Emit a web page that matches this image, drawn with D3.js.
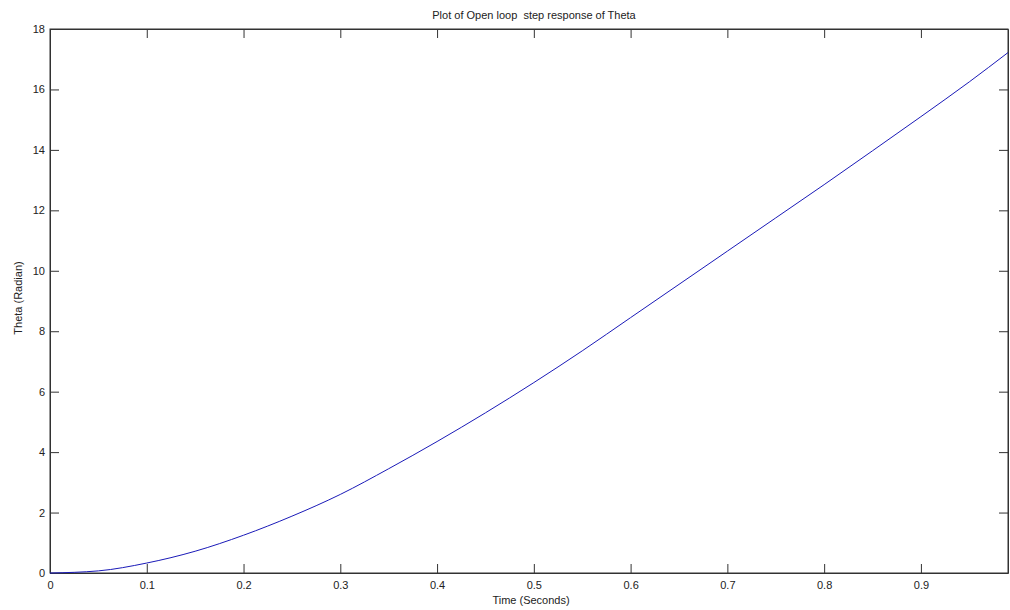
<!DOCTYPE html>
<html>
<head>
    <meta charset="utf-8">
    <script src="https://d3js.org/d3.v7.min.js"></script>
    <style>
        body { margin: 0; background: #fff; }
        text { font-family: "Liberation Sans", Arial, sans-serif; fill: #222; }
    </style>
</head>
<body>
    <svg id="chart" width="1010" height="610"></svg>

    <script>
        // Data
        const timeValues = [0, 0.05, 0.1, 0.15, 0.2, 0.25, 0.3, 0.35, 0.4, 0.45, 0.5,
            0.55, 0.6, 0.65, 0.7, 0.75, 0.8, 0.85, 0.9, 0.95, 0.99];
        const thetaValues = [0, 0.07, 0.33, 0.72, 1.25, 1.88, 2.6, 3.45, 4.35, 5.3, 6.3,
            7.35, 8.45, 9.55, 10.65, 11.75, 12.85, 13.97, 15.1, 16.25, 17.22];
        const xTicks = [0, 0.1, 0.2, 0.3, 0.4, 0.5, 0.6, 0.7, 0.8, 0.9];
        const yTicks = [0, 2, 4, 6, 8, 10, 12, 14, 16, 18];

        const svg = d3.select("#chart");
        const plotLeft = 50, plotRight = 1008, plotTop = 29, plotBottom = 573;
        const tickLen = 9;

        const x = d3.scaleLinear().domain([0, 0.99]).range([plotLeft, plotRight]);
        const y = d3.scaleLinear().domain([0, 18]).range([plotBottom, plotTop]);

        // axes with inward ticks on all four sides (box)
        svg.append("g")
            .attr("transform", "translate(0," + plotBottom + ")")
            .call(d3.axisBottom(x).tickValues(xTicks).tickSizeInner(-tickLen).tickSizeOuter(0).tickPadding(8)
                .tickFormat(d => d === 0 ? "0" : d3.format(".1f")(d)));
        svg.append("g")
            .attr("transform", "translate(0," + plotTop + ")")
            .call(d3.axisTop(x).tickValues(xTicks).tickSizeInner(-tickLen).tickSizeOuter(0).tickFormat(""));
        svg.append("g")
            .attr("transform", "translate(" + plotLeft + ",0)")
            .call(d3.axisLeft(y).tickValues(yTicks).tickSizeInner(-tickLen).tickSizeOuter(0).tickPadding(5));
        svg.append("g")
            .attr("transform", "translate(" + plotRight + ",0)")
            .call(d3.axisRight(y).tickValues(yTicks).tickSizeInner(-tickLen).tickSizeOuter(0).tickFormat(""));

        svg.selectAll(".domain, .tick line").attr("stroke", "#333");
        svg.selectAll(".tick text").attr("font-size", "11px").attr("fill", "#222");

        // box border
        svg.append("rect")
            .attr("x", plotLeft).attr("y", plotTop)
            .attr("width", plotRight - plotLeft).attr("height", plotBottom - plotTop)
            .attr("fill", "none").attr("stroke", "#333");

        // the curve
        const line = d3.line()
            .x((d, i) => x(timeValues[i]))
            .y(d => y(d))
            .curve(d3.curveMonotoneX);

        svg.append("path")
            .datum(thetaValues)
            .attr("d", line)
            .attr("fill", "none")
            .attr("stroke", "#1a1ab8")
            .attr("stroke-width", 1);

        // labels
        svg.append("text")
            .attr("x", 534).attr("y", 19)
            .attr("text-anchor", "middle")
            .attr("font-size", "11px")
            .style("white-space", "pre")
            .text("Plot of Open loop  step response of Theta");

        svg.append("text")
            .attr("x", 531).attr("y", 604)
            .attr("text-anchor", "middle")
            .attr("font-size", "11px")
            .text("Time (Seconds)");

        svg.append("text")
            .attr("transform", "translate(22,298) rotate(-90)")
            .attr("text-anchor", "middle")
            .attr("font-size", "11px")
            .text("Theta (Radian)");
    </script>
</body>
</html>
